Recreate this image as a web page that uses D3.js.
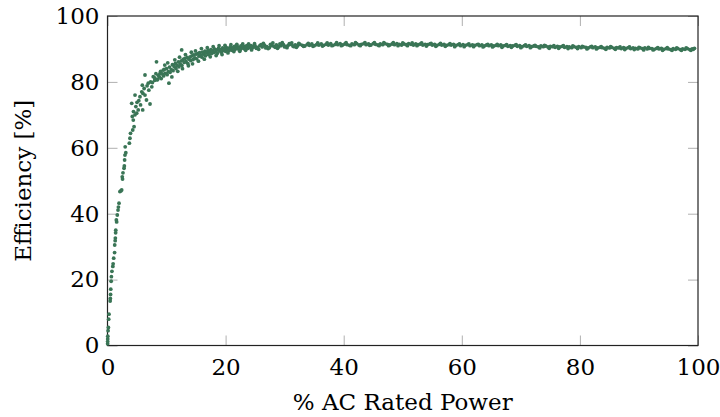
<!DOCTYPE html>
<html>
<head>
<meta charset="utf-8">
<script src="https://cdn.jsdelivr.net/npm/d3@7"></script>
<style>
  body{margin:0;background:#fff;}
  text{font-family:"DejaVu Serif",serif;}
</style>
</head>
<body>
<div id="chart"></div>
<script>
const width=720, height=417;
const margin={top:16,right:22,bottom:71.5,left:107.5};

// tick labels
const xTicks=[0,20,40,60,80,100];
const yTicks=[0,20,40,60,80,100];

// [% AC rated power, efficiency %]
const lowLoad=[[0.02,0.5],[0.03,1.2],[0.04,2.0],[0.05,2.8],[0.1,4.5],[0.15,5.5],[0.2,8.0],[0.25,9.5],
  [0.45,13.5],[0.48,14.3],[0.52,15.5],[0.55,17.1],[0.62,19.5],[0.66,20.9],[0.75,22.5],[0.9,24.0],
  [0.95,24.8],[1.05,26.5],[1.2,28.2],[1.22,30.5],[1.3,31.8],[1.33,32.6],[1.38,34.2],[1.4,35.0],
  [1.5,38.1],[1.55,37.5],[1.66,39.6],[1.78,41.1],[1.85,42.0],[1.95,43.2],[2.1,46.7],[2.25,46.9],
  [2.4,47.2],[2.5,51.2],[2.55,50.5],[2.62,52.4],[2.8,53.8],[2.85,54.5],[2.9,56.3],[2.96,57.8],
  [3.0,60.3],[3.1,58.5],[3.7,61.4],[3.8,62.9],[3.9,64.4],[4.1,73.5],[4.2,69.5],[4.27,65.4],
  [4.37,68.4],[4.4,71.0],[4.5,66.4],[4.66,70.0],[4.66,76.0],[4.8,72.5],[4.94,70.5],[5.0,73.8],
  [5.2,71.5],[5.3,74.3],[5.5,75.5],[5.6,73.0],[5.8,77.0],[5.9,79.0],[5.96,71.5],[6.0,76.5],
  [6.2,78.0],[6.35,76.0],[6.35,82.1],[6.6,74.5],[6.7,78.8],[6.9,79.6],[7.0,77.5],[7.2,73.3],
  [7.3,80.0],[7.5,78.5],[7.6,79.8],[7.75,81.6],[8.0,80.5],[8.3,86.1],[8.5,80.8],[8.9,82.6],
  [9.45,83.6],[9.7,85.1],[10.4,79.6],[12.56,89.7]];

const midLoad=[[8.0,81.2],[8.2,82.5],[8.4,80.6],[8.6,82.0],[8.8,81.5],[9.0,83.2],[9.1,81.0],[9.3,82.4],
  [9.5,81.8],[9.6,83.8],[9.8,82.6],[10.0,84.0],[10.1,82.2],[10.3,83.1],[10.5,84.5],[10.6,82.9],
  [10.8,83.7],[11.0,85.2],[11.1,83.4],[11.3,84.6],[11.5,85.6],[11.6,84.0],[11.8,85.0],[12.0,86.1],
  [12.1,84.6],[12.3,85.5],[12.5,86.4],[12.6,85.0],[12.8,86.8],[13.0,85.9],[13.1,87.1],[13.3,86.2],
  [13.5,87.4],[13.6,85.6],[13.8,86.9],[14.0,87.6],[14.1,86.5],[14.3,87.9],[14.5,86.8],[14.6,88.2],
  [14.8,87.3],[15.0,88.4],[15.1,87.0],[15.3,88.6],[15.5,87.8],[15.6,88.9],[15.8,88.1],[16.0,87.5],
  [16.1,89.0],[16.3,88.4],[16.5,89.3],[16.6,87.9],[16.8,88.8],[17.0,89.5],[17.1,88.3],[17.3,89.1],
  [17.5,89.8],[17.6,88.6],[17.8,89.4],[18.0,88.9],[18.1,90.0],[18.3,89.2],[18.5,89.7],[18.6,88.7],
  [18.8,90.2],[19.0,89.4],[19.1,89.9],[19.3,89.0],[19.5,90.3],[19.6,89.6],[19.8,90.0],[20.0,89.3],
  [20.1,90.5],[20.3,89.8],[20.5,90.2],[20.6,89.5],[20.8,90.6],[21.0,90.0],[21.1,89.6],[21.3,90.4],
  [21.5,90.8],[21.6,89.9],[21.8,90.3],[22.0,90.7],[22.1,90.0],[22.3,90.5],[22.5,89.8],[22.6,90.9],
  [22.8,90.3],[23.0,90.6],[23.1,90.1],[23.3,90.8],[23.5,90.4],[23.6,91.0],[23.8,90.2],[24.0,90.7],
  [24.1,90.5],[24.3,91.0],[24.5,90.3],[24.6,90.8],[24.8,90.6]];

// outer scatter around the knee of the curve
const midSpread=[[10.2,85.8],[10.9,81.5],[11.4,86.7],[11.9,83.2],[12.2,87.5],[12.7,84.0],[13.2,88.3],
  [13.7,84.9],[14.2,89.0],[14.4,85.5],[14.9,89.4],[15.4,86.3],[15.9,90.1],[16.4,86.9],[16.9,90.4],
  [17.4,87.6],[17.9,90.7],[18.4,88.0],[18.9,91.0],[19.4,88.3],[19.9,91.1],[20.4,88.8],[20.9,91.3],
  [21.4,89.2],[21.9,91.4],[22.4,89.3],[22.9,91.5],[23.4,89.6],[23.9,91.5],[24.4,89.7],[24.9,91.6],
  [25.6,89.9],[26.4,91.7],[27.2,90.1],[28.0,91.8],[28.8,90.2],[29.6,91.9],[30.4,90.4],[31.2,91.8],
  [32.0,90.5]];

const highLoad=[[25.0,90.9],[25.4,90.5],[25.8,91.0],[26.2,90.6],[26.6,91.1],[27.0,90.7],[27.4,90.4],
  [27.8,91.0],[28.2,90.8],[28.6,91.2],[29.0,90.7],[29.4,91.0],[29.8,91.3],[30.2,90.8],[30.6,91.1],
  [31.0,91.4],[31.4,90.9],[31.8,91.2],[32.2,91.0],[32.6,91.4],[33.0,91.1],[33.4,90.9],[33.8,91.3],
  [34.2,91.1],[34.6,91.5],[35.0,91.0],[35.4,91.3],[35.8,91.2],[36.2,91.5],[36.6,91.1],[37.0,91.4],
  [37.4,91.2],[37.8,91.6],[38.2,91.1],[38.6,91.4],[39.0,91.3],[39.4,91.6],[39.8,91.2],[40.2,91.5],
  [40.6,91.3],[41.0,91.1],[41.4,91.5],[41.8,91.3],[42.2,91.6],[42.6,91.2],[43.0,91.4],[43.4,91.6],
  [43.8,91.3],[44.2,91.5],[44.6,91.2],[45.0,91.6],[45.4,91.4],[45.8,91.2],[46.2,91.5],[46.6,91.3],
  [47.0,91.6],[47.4,91.4],[47.8,91.2],[48.2,91.5],[48.6,91.3],[49.0,91.6],[49.4,91.4],[49.8,91.2],
  [50.2,91.5],[50.6,91.3],[51.0,91.6],[51.4,91.4],[51.8,91.2],[52.2,91.5],[52.6,91.3],[53.0,91.5],
  [53.4,91.2],[53.8,91.4],[54.2,91.3],[54.6,91.5],[55.0,91.2],[55.4,91.4],[55.8,91.1],[56.2,91.4],
  [56.6,91.2],[57.0,91.4],[57.4,91.1],[57.8,91.3],[58.2,91.2],[58.6,91.4],[59.0,91.1],[59.4,91.3],
  [59.8,91.0],[60.2,91.3],[60.6,91.1],[61.0,91.3],[61.4,91.0],[61.8,91.2],[62.2,91.1],[62.6,91.3],
  [63.0,91.0],[63.4,91.2],[63.8,90.9],[64.2,91.2],[64.6,91.0],[65.0,91.2],[65.4,90.9],[65.8,91.1],
  [66.2,91.0],[66.6,91.2],[67.0,90.9],[67.4,91.1],[67.8,90.8],[68.2,91.0],[68.6,90.9],[69.0,91.1],
  [69.4,90.8],[69.8,91.0],[70.2,90.7],[70.6,91.0],[71.0,90.8],[71.4,91.0],[71.8,90.7],[72.2,90.9],
  [72.6,90.8],[73.0,90.6],[73.4,90.9],[73.8,90.7],[74.2,90.9],[74.6,90.6],[75.0,90.8],[75.4,90.7],
  [75.8,90.5],[76.2,90.8],[76.6,90.6],[77.0,90.8],[77.4,90.5],[77.8,90.7],[78.2,90.6],[78.6,90.4],
  [79.0,90.7],[79.4,90.5],[79.8,90.7],[80.2,90.4],[80.6,90.6],[81.0,90.5],[81.4,90.3],[81.8,90.6],
  [82.2,90.4],[82.6,90.6],[83.0,90.3],[83.4,90.5],[83.8,90.4],[84.2,90.2],[84.6,90.5],[85.0,90.3],
  [85.4,90.5],[85.8,90.2],[86.2,90.4],[86.6,90.3],[87.0,90.1],[87.4,90.4],[87.8,90.2],[88.2,90.4],
  [88.6,90.1],[89.0,90.3],[89.4,90.2],[89.8,90.0],[90.2,90.3],[90.6,90.1],[91.0,90.3],[91.4,90.0],
  [91.8,90.2],[92.2,90.1],[92.6,89.9],[93.0,90.2],[93.4,90.0],[93.8,90.2],[94.2,89.9],[94.6,90.1],
  [95.0,90.0],[95.4,89.8],[95.8,90.1],[96.2,89.9],[96.6,90.1],[97.0,89.8],[97.4,90.0],[97.8,89.9],
  [98.2,90.1],[98.6,89.8],[99.0,90.0],[99.2,89.9]];

// second row of the band, upper and lower edges
const highSpread=[[25.2,90.2],[26.0,91.3],[26.8,90.3],[27.6,91.4],[28.4,90.5],[29.2,91.5],[30.0,90.6],
  [30.8,91.6],[31.6,90.7],[32.4,91.7],[33.2,90.8],[34.0,91.7],[34.8,90.8],[35.6,91.8],[36.4,90.9],
  [37.2,91.8],[38.0,91.0],[38.8,91.9],[39.6,91.0],[40.4,91.9],[41.2,91.0],[42.0,91.9],[42.8,91.0],
  [43.6,91.9],[44.4,91.1],[45.2,91.9],[46.0,91.0],[46.8,91.9],[47.6,91.0],[48.4,91.9],[49.2,91.0],
  [50.0,91.8],[50.8,91.0],[51.6,91.8],[52.4,91.0],[53.2,91.8],[54.0,90.9],[54.8,91.7],[55.6,90.8],
  [56.4,91.7],[57.2,90.8],[58.0,91.6],[58.8,90.7],[59.6,91.5],[60.4,90.7],[61.2,91.5],[62.0,90.7],
  [62.8,91.4],[63.6,90.6],[64.4,91.4],[65.2,90.6],[66.0,91.4],[66.8,90.5],[67.6,91.3],[68.4,90.5],
  [69.2,91.3],[70.0,90.4],[70.8,91.2],[71.6,90.4],[72.4,91.1],[73.2,90.3],[74.0,91.1],[74.8,90.2],
  [75.6,91.0],[76.4,90.2],[77.2,91.0],[78.0,90.1],[78.8,90.9],[79.6,90.1],[80.4,90.8],[81.2,90.0],
  [82.0,90.8],[82.8,90.0],[83.6,90.7],[84.4,89.9],[85.2,90.7],[86.0,89.9],[86.8,90.6],[87.6,89.8],
  [88.4,90.6],[89.2,89.8],[90.0,90.5],[90.8,89.7],[91.6,90.5],[92.4,89.7],[93.2,90.4],[94.0,89.6],
  [94.8,90.4],[95.6,89.6],[96.4,90.3],[97.2,89.6],[98.0,90.3],[98.8,89.6],[99.4,90.2]];

const points=lowLoad.concat(midLoad,midSpread,highLoad,highSpread);

const svg=d3.select("#chart").append("svg")
  .attr("width",width).attr("height",height);

const x=d3.scaleLinear().domain([0,100]).range([margin.left,width-margin.right]);
const y=d3.scaleLinear().domain([0,100]).range([height-margin.bottom,margin.top]);

//inside ticks on all four sides
const tickLen=10;
function styleAxis(g){
  g.select(".domain").remove();
  g.selectAll(".tick line").attr("stroke","#b0b0b0").attr("stroke-width",1);
  g.selectAll(".tick text").attr("fill","#000").style("font-size","23px")
   .style("font-family","'DejaVu Serif',serif");
}
svg.append("g").attr("transform",`translate(0,${y(0)})`)
  .call(d3.axisBottom(x).tickValues(xTicks).tickSize(-tickLen).tickPadding(8))
  .call(styleAxis)
  .selectAll(".tick text").attr("dy","0.95em");
svg.append("g").attr("transform",`translate(0,${y(100)})`)
  .call(d3.axisTop(x).tickValues(xTicks).tickSize(-tickLen).tickFormat(""))
  .call(styleAxis);
svg.append("g").attr("transform",`translate(${x(0)},0)`)
  .call(d3.axisLeft(y).tickValues(yTicks).tickSize(-tickLen).tickPadding(8))
  .call(styleAxis);
svg.append("g").attr("transform",`translate(${x(100)},0)`)
  .call(d3.axisRight(y).tickValues(yTicks).tickSize(-tickLen).tickFormat(""))
  .call(styleAxis);

//frame
svg.append("rect")
  .attr("x",x(0)).attr("y",y(100))
  .attr("width",x(100)-x(0)).attr("height",y(0)-y(100))
  .attr("fill","none").attr("stroke","#222").attr("stroke-width",1.2);

//points
svg.append("g").selectAll("circle")
  .data(points).enter().append("circle")
  .attr("cx",d=>x(d[0])).attr("cy",d=>y(d[1]))
  .attr("r",1.9).attr("fill","#3a7556");

//axis titles
svg.append("text").attr("x",(x(0)+x(100))/2).attr("y",410)
  .attr("text-anchor","middle").style("font-size","23px")
  .text("% AC Rated Power");
svg.append("text")
  .attr("transform",`translate(31,${(y(0)+y(100))/2}) rotate(-90)`)
  .attr("text-anchor","middle").style("font-size","23px")
  .text("Efficiency [%]");
</script>
</body>
</html>
